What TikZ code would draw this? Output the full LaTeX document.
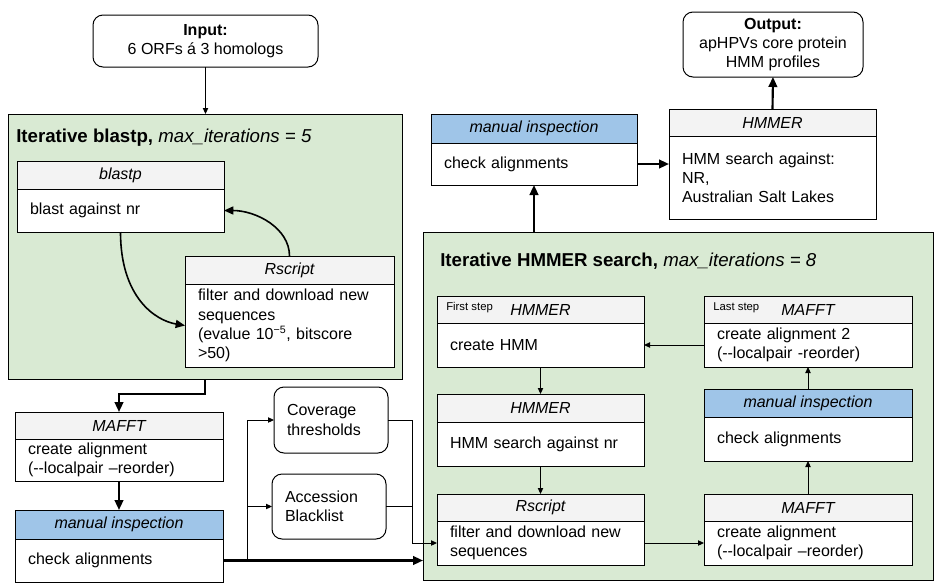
\documentclass[tikz,border=0pt]{standalone}
\usepackage{fontspec}
\setmainfont{Liberation Sans}
\usetikzlibrary{arrows.meta,calc}
\definecolor{grn}{HTML}{D9EAD3}
\definecolor{blu}{HTML}{9FC5E8}
\definecolor{gry}{HTML}{F3F3F3}
\newcommand\pbox[9]{%
 \pgfmathsetmacro\bw{(#5-#2)*0.75}%
 \pgfmathsetmacro\hh{(#4-#3)*0.75}%
 \pgfmathsetmacro\bh{(#6-#4)*0.75}%
 \pgfmathsetmacro\tw{(#5-#2-26)*0.75}%
 \node[hdr,fill=#7,minimum width=\bw pt,minimum height=\hh pt] (#1h) at (#2,#3) {#8};
 \node[bdy,minimum width=\bw pt,minimum height=\bh pt,text width=\tw pt] (#1) at (#2,#4) {#9};
}
\tikzset{
 hdr/.style={draw,line width=0.75pt,anchor=north west,inner sep=0pt,outer sep=0pt,font=\fontsize{12}{14.4}\selectfont\itshape},
 bdy/.style={draw,line width=0.75pt,fill=white,anchor=north west,align=left,inner xsep=9.75pt,inner ysep=0pt,outer sep=0pt,font=\fontsize{12}{14.4}\selectfont},
 grnbox/.style={draw,line width=0.75pt,fill=grn,anchor=north west,inner sep=0pt,outer sep=0pt},
 rbox/.style={draw,line width=0.75pt,rounded corners=7.5pt,fill=white,inner sep=0pt,outer sep=0pt,font=\fontsize{12}{14.4}\selectfont},
 ttl/.style={anchor=west,inner sep=0pt,font=\fontsize{14}{16}\selectfont},
 steplbl/.style={anchor=west,inner sep=0pt,font=\fontsize{8.5}{10}\selectfont},
 tarr/.style={line width=0.75pt,-{Triangle[length=4.5pt,width=4pt]}},
 tline/.style={line width=0.75pt},
 karr/.style={line width=1.6pt,-{Triangle[length=7.5pt,width=6.5pt]}},
 carr/.style={line width=1.2pt,-{Triangle[length=7pt,width=6pt]}},
}
\begin{document}
\begin{tikzpicture}[x=0.75pt,y=-0.75pt]
\useasboundingbox (0,0) rectangle (939,586);
% green containers
\node[grnbox,minimum width=295.5pt,minimum height=198.75pt] (g1) at (8,114) {};
\node[grnbox,minimum width=382.5pt,minimum height=261pt] (g2) at (423,232) {};
\node[ttl] (t1) at (16,138) {\textbf{Iterative blastp,} \textit{max\_iterations = 5}};
\node[ttl] (t2) at (440,261) {\textbf{Iterative HMMER search,} \textit{max\_iterations = 8}};
% input / output
\node[rbox,minimum width=168.75pt,minimum height=39pt,align=center] (inp) at (205.5,41) {\textbf{Input:}\\6 ORFs á 3 homologs};
\node[rbox,minimum width=135pt,minimum height=48.75pt,align=center] (out) at (773,44.5) {\textbf{Output:}\\apHPVs core protein\\HMM profiles};
% process boxes
\pbox{blast}{17}{161}{189}{224}{232}{gry}{blastp}{blast against nr}
\pbox{rs1}{185}{256}{284}{394}{367}{gry}{Rscript}{filter and download new\\sequences\\(evalue 10\textsuperscript{−5}, bitscore\\>50)}
\pbox{maf}{15}{412}{439}{223}{481}{gry}{MAFFT}{create alignment\\(-{}-localpair –reorder)}
\pbox{man}{15}{510}{539}{223}{582}{blu}{manual inspection}{check alignments}
\pbox{tm}{431}{114}{143}{637}{185}{blu}{manual inspection}{check alignments}
\pbox{hm3}{669}{109}{136}{876}{219}{gry}{HMMER}{HMM search against:\\NR,\\Australian Salt Lakes}
\pbox{h1}{437}{296}{323}{644}{367}{gry}{HMMER}{create HMM}
\pbox{h2}{437}{394}{422}{644}{466}{gry}{HMMER}{HMM search against nr}
\pbox{r2}{437}{494}{521}{644}{565}{gry}{Rscript}{filter and download new\\sequences}
\pbox{ls}{704}{296}{323}{912}{367}{gry}{MAFFT}{create alignment 2\\(-{}-localpair -reorder)}
\pbox{mi}{704}{389}{417}{912}{461}{blu}{manual inspection}{check alignments}
\pbox{m2}{704}{494}{521}{912}{565}{gry}{MAFFT}{create alignment\\(-{}-localpair –reorder)}
\node[steplbl] (fs) at (446,308) {First step};
\node[steplbl] (lst) at (713,308) {Last step};
% side boxes
\node[rbox,minimum width=85.5pt,minimum height=49.5pt,text width=66pt,align=left,inner xsep=9.75pt] (cov) at (331,420) {Coverage\\thresholds};
\node[rbox,minimum width=85.5pt,minimum height=48.75pt,text width=66pt,align=left,inner xsep=9.75pt] (acc) at (329,506.5) {Accession\\Blacklist};
% connectors
\draw[tarr] (inp.south) -- (inp.south |- g1.north);
\draw[carr] (blast.south) .. controls ($(blast.south)+(0,65)$) and ($(rs1.west)+(-30,-5)$) .. (rs1.west);
\draw[carr] (rs1h.north) .. controls ($(rs1h.north)+(0,-28)$) and ($(blast.east)+(32,0)$) .. (blast.east);
\draw[karr] (g1.south) -- ++(0,15) -| (mafh.north);
\draw[karr] (maf.south) -- (manh.north);
\draw[karr] (man.east) -- (man.east -| g2.west);
\coordinate (br) at ($(man.east)+(24,0)$);
\coordinate (jn) at ($(r2.west)+(-25,0)$);
\draw[tarr] (br) |- (cov.west);
\draw[tarr] (br) |- (acc.west);
\draw[tarr] (cov.east) -| (jn) -- (r2.west);
\draw[tline] (acc.east) -| (jn);
\draw[karr] (tm.south |- g2.north) -- (tm.south);
\draw[karr] (tm.east) -- (tm.east -| hm3.west);
\draw[karr] (hm3h.north) -- (out.south);
\draw[tarr] (h1.south) -- (h2h.north);
\draw[tarr] (h2.south) -- (r2h.north);
\draw[tarr] (r2.east) -- (m2.west);
\draw[tarr] (m2h.north) -- (mi.south);
\draw[tarr] (mih.north) -- (ls.south);
\draw[tarr] (ls.west) -- (h1.east);
\end{tikzpicture}
\end{document}
